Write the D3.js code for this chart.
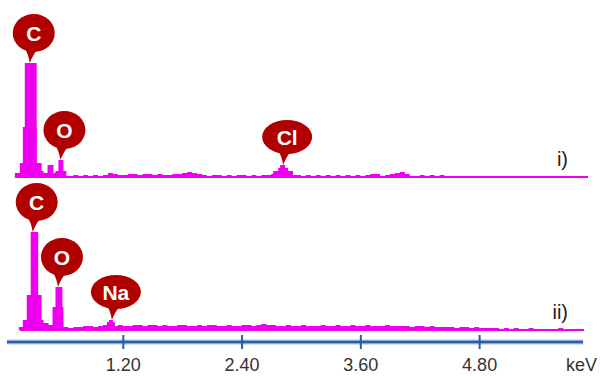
<!DOCTYPE html>
<html>
<head>
	<title>EDX spectra</title>
	<script src="https://d3js.org/d3.v7.min.js"></script>
	<style>
		body{margin:0;background:#fff;}
		text{font-family: Arial, 'Liberation Sans', sans-serif;}
		.tick text{fill:#333;font-size:18px;}
	</style>
</head>
<body>
	<div class="chart"></div>
	<script>
		// counts per channel, channels are 0.05 keV wide starting at 0 keV
		const channelWidth = 0.05
		const noiseI = [0,0,0,3,5,5,5,6,4,3, 4,3,1,1,2,1,2,1,2,1, 2,4,3,2,2,3,3,2,3,3, 2,3,2,2,3,3,4,5,4,3,
			2,1,2,2,1,2,1,2,2,1, 2,1,2,2,3,5,6,5,2,2, 1,2,1,2,1,2,1,2,1,2, 1,2,1,2,3,3,1,2,3,4,
			5,3,1,0,2,0,2,0,2,0, 1,0,0,0,0,0,0,0,0,0, 0,0,0,0,0,0,0,0,0,0, 0,0,0,0,0,0,0,0]
		const noiseII = [0,0,0,3,7,10,10,7,7,5, 8,8,3,2,3,3,4,4,3,4, 5,5,4,5,4,4,5,5,4,5, 5,4,5,4,4,5,5,4,4,5,
			4,5,5,4,4,5,4,4,5,5, 4,5,6,5,5,4,4,5,4,4, 5,4,4,4,5,4,4,5,4,4, 5,4,4,5,4,4,4,5,4,4,
			4,4,3,4,4,3,4,3,3,3, 3,2,3,3,2,3,2,2,2,2, 1,2,1,2,1,1,2,1,1,1, 1,1,2,1,1,1,0]

		// peak blocks: [from keV, to keV, counts]
		const peaksI = [[0.11,0.42,4],[0.16,0.38,14],[0.19,0.33,50],[0.21,0.33,114],[0.44,0.50,12],
			[0.52,0.63,6],[0.55,0.60,17],[2.72,2.92,6],[2.77,2.87,9],[2.79,2.84,12]]
		const peaksII = [[0.16,0.40,3],[0.19,0.40,10],[0.23,0.38,35],[0.27,0.345,98],[0.49,0.60,23],
			[0.52,0.59,43],[1.04,1.12,8],[1.06,1.10,10]]

		const labelsI = [{el:'C',keV:0.26,counts:114},{el:'O',keV:0.57,counts:17},{el:'Cl',keV:2.82,counts:12}]
		const labelsII = [{el:'C',keV:0.29,counts:98},{el:'O',keV:0.545,counts:43},{el:'Na',keV:1.09,counts:10}]

		const tickValues = [1.2,2.4,3.6,4.8]
		const spectrumNames = ['i)','ii)']

		const magenta = '#ee00ee'
		const red = '#b00000'
		const blue = '#2d5da5'

		const svg = d3.select('.chart').append('svg').attr('width',600).attr('height',377)

		const x = d3.scaleLinear().domain([0,5.9]).range([4,588])

		const spectra = [
			{name:spectrumNames[0], noise:noiseI, peaks:peaksI, labels:labelsI, base:177, start:0.11, end:5.9},
			{name:spectrumNames[1], noise:noiseII, peaks:peaksII, labels:labelsII, base:330, start:0.16, end:5.86}
		]

		spectra.forEach(s => {
			const y = d3.scaleLinear().domain([0,120]).range([s.base, s.base-120])
			const g = svg.append('g')

			// baseline
			g.append('line')
				.attr('x1',x(s.start)).attr('x2',x(s.end))
				.attr('y1',s.base).attr('y2',s.base)
				.attr('stroke',magenta).attr('stroke-width',2)

			const pts = s.noise.map((c,i) => ({e:i*channelWidth, c:c}))
			pts.push({e:s.noise.length*channelWidth, c:0})
			const area = d3.area()
				.curve(d3.curveStepAfter)
				.x(d => x(d.e))
				.y0(y(0))
				.y1(d => y(d.c))
			g.append('path').datum(pts).attr('d',area).attr('fill',magenta)

			g.selectAll('rect.peak').data(s.peaks).join('rect')
				.attr('class','peak')
				.attr('x',d => x(d[0]))
				.attr('width',d => x(d[1])-x(d[0]))
				.attr('y',d => y(d[2]))
				.attr('height',d => y(0)-y(d[2]))
				.attr('fill',magenta)

			// element bubbles
			const lab = g.selectAll('g.lab').data(s.labels).join('g').attr('class','lab')
			lab.each(function(d){
				const tx = x(d.keV), ty = y(d.counts)
				const rx = d.el.length > 1 ? 25 : 21
				const ry = d.el.length > 1 ? 17 : 19
				const cx = tx+4, cy = ty-ry-11
				const el = d3.select(this)
				el.append('path')
					.attr('d',`M${cx-10},${cy+ry-6} Q${tx-1},${cy+ry+3} ${tx},${ty} Q${tx+3},${cy+ry+3} ${cx+6},${cy+ry-6} Z`)
					.attr('fill',red)
				el.append('ellipse').attr('cx',cx).attr('cy',cy).attr('rx',rx).attr('ry',ry).attr('fill',red)
				el.append('text').attr('x',cx).attr('y',cy).attr('dy','0.36em')
					.attr('text-anchor','middle').attr('fill','#fff')
					.attr('font-weight','bold').attr('font-size','21px')
					.text(d.el)
			})

			g.append('text').attr('x',568).attr('y',s.base-11)
				.attr('text-anchor','end').attr('font-size','20px').attr('fill','#222')
				.text(s.name)
		})

		// energy axis
		const axisY = 342
		svg.append('line').attr('x1',x(0.03)).attr('x2',x(5.85)).attr('y1',axisY).attr('y2',axisY)
			.attr('stroke','#a9c4ea').attr('stroke-width',5)
		svg.append('line').attr('x1',x(0.03)).attr('x2',x(5.85)).attr('y1',axisY).attr('y2',axisY)
			.attr('stroke',blue).attr('stroke-width',2.5)

		const xAxis = d3.axisBottom(x)
			.tickValues(tickValues)
			.tickFormat(d3.format('.2f'))
			.tickSize(0)
			.tickPadding(16)
		const ax = svg.append('g').attr('transform',`translate(0,${axisY})`).call(xAxis)
		ax.select('.domain').remove()
		ax.selectAll('.tick').append('line').attr('y1',-7).attr('y2',7).attr('stroke',blue).attr('stroke-width',2)
		ax.selectAll('.tick text').attr('font-family',null)

		svg.append('text').attr('x',566).attr('y',371).attr('font-size','18px').attr('fill','#333').text('keV')
	</script>
</body>
</html>
